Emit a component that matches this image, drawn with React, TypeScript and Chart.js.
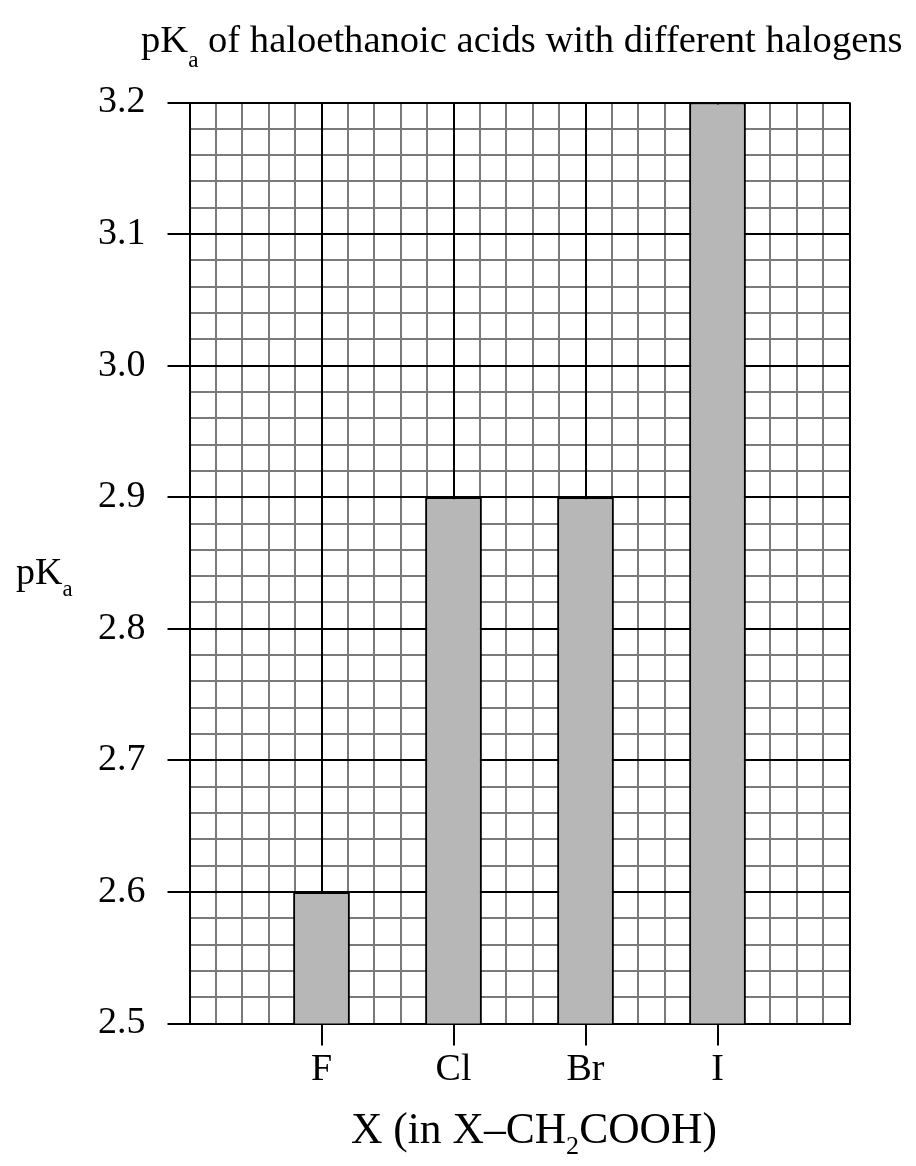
import { useEffect, useRef } from 'react';
import { Chart, registerables } from 'chart.js';

Chart.register(...registerables);

// ---- data ----
const halogens: string[] = ['F', 'Cl', 'Br', 'I'];
const pKaValues: number[] = [2.6, 2.9, 2.9, 3.2];
const yTickLabels: string[] = ['2.5', '2.6', '2.7', '2.8', '2.9', '3.0', '3.1', '3.2'];
const yMin = 2.5;
const yMax = 3.2;
const yMajorStep = 0.1;
const yMinorStep = 0.02;
const xMin = 0;
const xMax = halogens.length + 1;
const xMinorStep = 0.2;

const titleParts = [
  { text: 'pK', sub: false },
  { text: 'a', sub: true },
  { text: ' of haloethanoic acids with different halogens', sub: false },
];
const yTitleParts = [
  { text: 'pK', sub: false },
  { text: 'a', sub: true },
];
const xTitleParts = [
  { text: 'X (in X\u2013CH', sub: false },
  { text: '2', sub: true },
  { text: 'COOH)', sub: false },
];

const FONT = '"Liberation Serif", "Times New Roman", Times, serif';
const TICK_SIZE = 38;
const TITLE_SIZE = 38.6;
const YTITLE_SIZE = 38;
const XTITLE_SIZE = 43.5;

type Part = { text: string; sub: boolean };

function drawRich(ctx: CanvasRenderingContext2D, parts: Part[], x: number, baseline: number, size: number, subDrop: number) {
  const subSize = size * 0.6;
  ctx.save();
  ctx.fillStyle = '#000';
  ctx.textBaseline = 'alphabetic';
  ctx.textAlign = 'left';
  let cx = x;
  for (const p of parts) {
    ctx.font = `${p.sub ? subSize : size}px ${FONT}`;
    ctx.fillText(p.text, cx, p.sub ? baseline + subDrop : baseline);
    cx += ctx.measureText(p.text).width;
  }
  ctx.restore();
}

const richTextPlugin = {
  id: 'richText',
  afterDraw(chart: any) {
    const ctx = chart.ctx as CanvasRenderingContext2D;
    drawRich(ctx, titleParts, 141, 52, TITLE_SIZE, 15);
    drawRich(ctx, yTitleParts, 16, 584, YTITLE_SIZE, 12);
    drawRich(ctx, xTitleParts, 351, 1143, XTITLE_SIZE, 11);
  },
};

const isMajorY = (v: number) => Math.abs(v / yMajorStep - Math.round(v / yMajorStep)) < 1e-6;

export default function App() {
  const canvasRef = useRef<HTMLCanvasElement | null>(null);

  useEffect(() => {
    const canvas = canvasRef.current;
    if (!canvas) return;
    const chart = new Chart(canvas, {
      type: 'bar',
      data: {
        datasets: [
          {
            data: pKaValues.map((v, i) => ({ x: i + 1, y: v })),
            xAxisID: 'x2',
            yAxisID: 'y2',
            backgroundColor: '#b7b7b7',
            borderColor: '#000',
            borderWidth: 2,
            borderSkipped: false,
            categoryPercentage: 1,
            barPercentage: 0.43,
          } as any,
        ],
      },
      options: {
        animation: false,
        responsive: false,
        devicePixelRatio: 1,
        layout: { padding: { top: 102.5, right: 66.5, bottom: 0, left: 0 } },
        plugins: { legend: { display: false }, tooltip: { enabled: false }, title: { display: false } },
        scales: {
          x: {
            type: 'linear',
            position: 'bottom',
            min: xMin,
            max: xMax,
            offset: false,
            ticks: { stepSize: xMinorStep, display: false, maxTicksLimit: 1000, autoSkip: false },
            grid: { color: '#7a7a7a', lineWidth: 2, drawTicks: false, offset: false, z: -2 } as any,
            border: { display: false },
            afterFit: (s: any) => { s.height = 0; },
          },
          x2: {
            type: 'linear',
            position: 'bottom',
            min: xMin,
            max: xMax,
            offset: false,
            ticks: {
              stepSize: 1,
              autoSkip: false,
              maxRotation: 0,
              color: '#000',
              padding: 2,
              font: { family: FONT, size: TICK_SIZE },
              callback: (v: any) => halogens[Math.round(Number(v)) - 1] ?? '',
            },
            grid: {
              color: '#000',
              lineWidth: 2,
              tickLength: 22,
              offset: false,
              tickColor: (c: any) => (c.tick && halogens[Math.round(c.tick.value) - 1] ? '#000' : 'rgba(0,0,0,0)'),
              z: -1,
            } as any,
            border: { color: '#000', width: 2 },
            afterFit: (s: any) => { s.height = 142.5; },
          },
          y: {
            type: 'linear',
            position: 'left',
            min: yMin,
            max: yMax,
            ticks: { stepSize: yMinorStep, display: false, maxTicksLimit: 1000, autoSkip: false },
            grid: { color: '#7a7a7a', lineWidth: 2, drawTicks: false, z: -2 } as any,
            border: { display: false },
            afterFit: (s: any) => { s.width = 0; },
          },
          y2: {
            type: 'linear',
            position: 'left',
            min: yMin,
            max: yMax,
            ticks: {
              stepSize: yMajorStep,
              autoSkip: false,
              color: '#000',
              padding: 22,
              font: { family: FONT, size: TICK_SIZE },
              callback: (v: any) => {
                const n = Number(v);
                if (!isMajorY(n)) return '';
                const idx = Math.round((n - yMin) / yMajorStep);
                return yTickLabels[idx] ?? n.toFixed(1);
              },
            },
            grid: { color: '#000', lineWidth: 2, tickLength: 22, z: -1 } as any,
            border: { color: '#000', width: 2 },
            afterFit: (s: any) => { s.width = 189.5; },
          },
        },
      } as any,
      plugins: [richTextPlugin],
    });
    return () => chart.destroy();
  }, []);

  return (
    <div style={{ position: 'absolute', left: 0, top: 0, width: 916, height: 1166, background: '#fff' }}>
      <canvas ref={canvasRef} width={916} height={1166} style={{ display: 'block', width: 916, height: 1166 }} />
    </div>
  );
}
